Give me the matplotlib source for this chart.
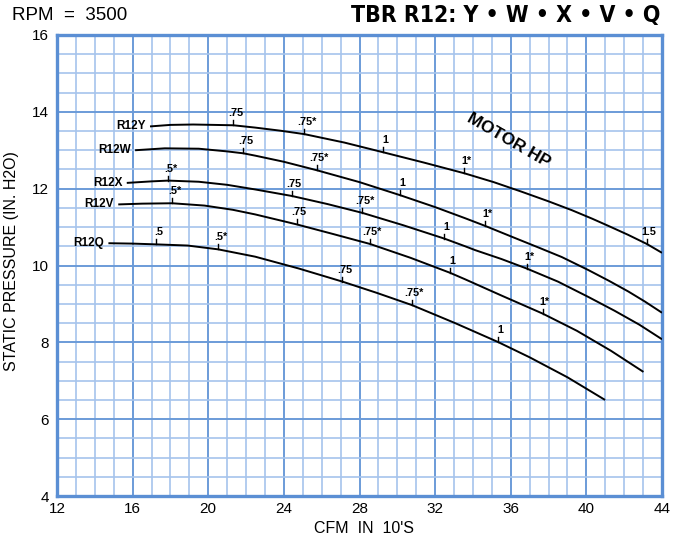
import numpy as np
import matplotlib
matplotlib.use("Agg")
import matplotlib.pyplot as plt
from matplotlib.ticker import MultipleLocator

plt.rcParams['font.family'] = ['Liberation Sans', 'DejaVu Sans']

# ── curve data (CFM in 10's, static pressure in. H2O) ──
y_cfm = [16.92, 18.0, 19.2, 20.3, 21.33, 22.48, 23.8, 25.08, 27.2, 29.23, 31.4,
         33.55, 35.1, 36.58, 38.0, 39.23, 40.3, 41.17, 42.2, 43.2, 44.0]
y_sp = [13.62, 13.66, 13.67, 13.66, 13.65, 13.59, 13.51, 13.42, 13.20, 12.95, 12.68,
        12.40, 12.17, 11.92, 11.67, 11.44, 11.22, 11.03, 10.80, 10.56, 10.33]

w_cfm = [16.13, 17.7, 19.5, 21.0, 21.86, 22.48, 24.0, 25.74, 28.0, 30.15, 32.0,
         33.59, 34.65, 36.2, 37.56, 38.7, 40.11, 41.2, 42.23, 43.1, 44.0]
w_sp = [13.0, 13.05, 13.04, 12.97, 12.92, 12.86, 12.70, 12.48, 12.17, 11.83, 11.52,
        11.23, 11.03, 10.72, 10.45, 10.22, 9.88, 9.60, 9.32, 9.06, 8.77]

x_cfm = [15.69, 17.0, 17.89, 19.5, 21.0, 22.48, 24.42, 26.3, 28.15, 30.3, 32.49,
         33.59, 34.12, 35.5, 36.85, 38.5, 40.11, 41.5, 42.8, 44.0]
x_sp = [12.15, 12.19, 12.21, 12.18, 12.10, 11.98, 11.81, 11.60, 11.37, 11.05, 10.70,
        10.50, 10.40, 10.17, 9.92, 9.58, 9.18, 8.82, 8.46, 8.08]

v_cfm = [15.24, 16.5, 18.1, 19.8, 21.3, 22.48, 24.68, 26.6, 28.56, 30.7, 32.79,
         33.59, 35.5, 37.68, 39.5, 41.3, 43.02]
v_sp = [11.59, 11.61, 11.62, 11.56, 11.45, 11.33, 11.07, 10.82, 10.56, 10.20, 9.81,
        9.64, 9.22, 8.75, 8.30, 7.78, 7.23]

q_cfm = [14.72, 16.0, 17.24, 18.9, 20.53, 22.48, 24.8, 27.1, 28.9, 30.77, 33.06,
         35.32, 37.0, 39.0, 40.99]
q_sp = [10.58, 10.57, 10.55, 10.52, 10.42, 10.23, 9.92, 9.58, 9.29, 8.97, 8.50,
        8.01, 7.61, 7.09, 6.50]

models = ['R12Y', 'R12W', 'R12X', 'R12V', 'R12Q']

# motor HP marks along each curve: (cfm, static pressure, label)
y_hp = [(21.33, 13.65, '.75'), (25.08, 13.42, '.75*'), (29.23, 12.95, '1'),
        (33.55, 12.40, '1*'), (43.2, 10.56, '1.5')]
w_hp = [(21.86, 12.92, '.75'), (25.74, 12.48, '.75*'), (30.15, 11.83, '1'),
        (34.65, 11.03, '1*')]
x_hp = [(17.89, 12.21, '.5*'), (24.42, 11.81, '.75'), (28.15, 11.37, '.75*'),
        (32.49, 10.70, '1'), (36.85, 9.92, '1*')]
v_hp = [(18.1, 11.62, '.5*'), (24.68, 11.07, '.75'), (28.56, 10.56, '.75*'),
        (32.79, 9.81, '1'), (37.68, 8.75, '1*')]
q_hp = [(17.24, 10.55, '.5'), (20.53, 10.42, '.5*'), (27.1, 9.58, '.75'),
        (30.77, 8.97, '.75*'), (35.32, 8.01, '1')]

curves = [(y_cfm, y_sp, y_hp), (w_cfm, w_sp, w_hp), (x_cfm, x_sp, x_hp),
          (v_cfm, v_sp, v_hp), (q_cfm, q_sp, q_hp)]

MAJOR = '#6b9bd8'
MINOR = '#a6c4ec'

fig = plt.figure(figsize=(6.85, 5.44), dpi=100)
ax = fig.add_axes([57 / 685, 1 - 496 / 544, 605 / 685, 461 / 544])

ax.set_xlim(12, 44)
ax.set_ylim(4, 16)
ax.xaxis.set_major_locator(MultipleLocator(4))
ax.xaxis.set_minor_locator(MultipleLocator(1))
ax.yaxis.set_major_locator(MultipleLocator(2))
ax.yaxis.set_minor_locator(MultipleLocator(0.5))
ax.grid(which='major', color=MAJOR, linewidth=1.4)
ax.grid(which='minor', color=MINOR, linewidth=1.2)
ax.set_axisbelow(True)
for s in ax.spines.values():
    s.set_color('#5b8fd4')
    s.set_linewidth(2.4)
ax.tick_params(which='both', length=0, labelsize=11, pad=4)
ax.tick_params(axis='y', pad=6)

ax.set_xlabel("CFM  IN  10'S", fontsize=11.5)
ax.xaxis.set_label_coords(0.508, -0.055)
ax.set_ylabel('STATIC PRESSURE (IN. H2O)', fontsize=11.5)
ax.yaxis.set_label_coords(-0.062, 0.51)

for name, (cx, cy, hp) in zip(models, curves):
    ax.plot(cx, cy, color='black', linewidth=1.4, solid_capstyle='butt',
            solid_joinstyle='round', zorder=3)
    ax.annotate(name, (cx[0], cy[0]), xytext=(-3, 0), textcoords='offset points',
                ha='right', va='center', fontsize=8.5, fontweight='bold', zorder=4)
    for hx, hy, lbl in hp:
        ax.plot([hx, hx], [hy, hy + 0.13], color='black', linewidth=1.0, zorder=3)
        ax.text(hx + 0.12, hy + 0.18, lbl, ha='center', va='bottom',
                fontsize=7.8, fontweight='bold', zorder=4)

ax.text(35.9, 13.25, 'MOTOR HP', rotation=-30, ha='center', va='center',
        fontsize=12.5, fontweight='bold', rotation_mode='anchor')

fig.text(12 / 685, 1 - 20 / 544, 'RPM  =  3500', fontsize=13.5, ha='left', va='baseline')
fig.text(660 / 685, 1 - 22 / 544, 'TBR R12: Y \u2022 W \u2022 X \u2022 V \u2022 Q',
         fontsize=16.5, fontweight='bold', fontstretch='condensed', ha='right',
         va='baseline', family=['DejaVu Sans'])

plt.savefig('out.png', dpi=100)
